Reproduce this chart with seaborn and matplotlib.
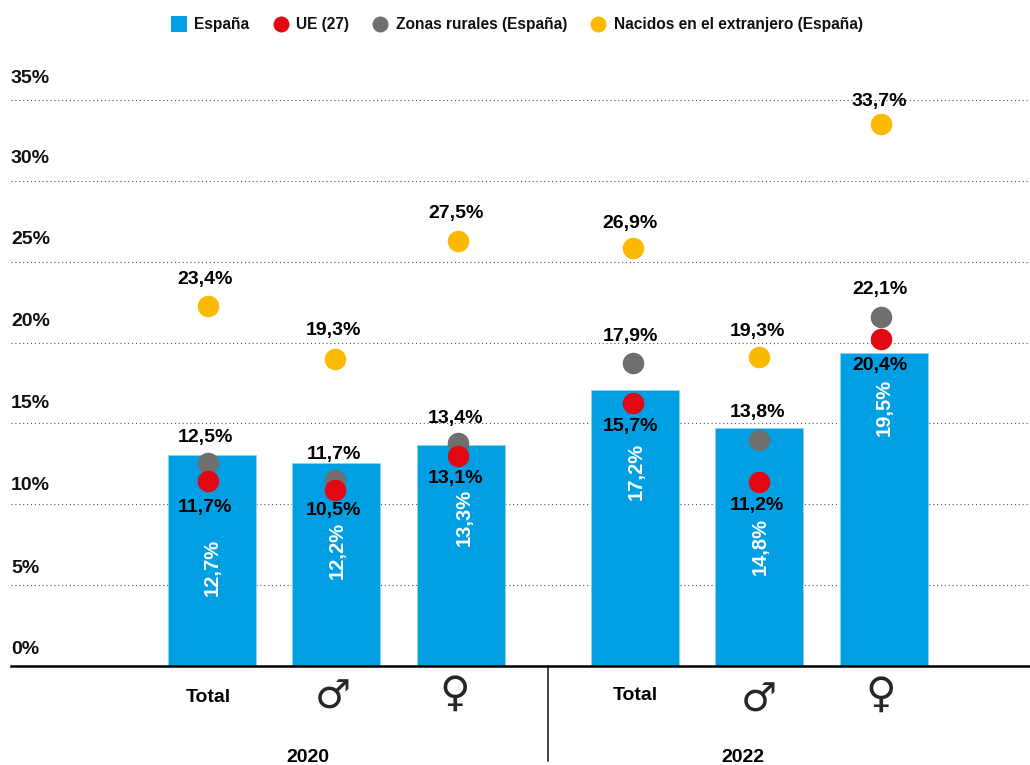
import pandas as pd
import seaborn as sns
import matplotlib.pyplot as plt
from matplotlib.lines import Line2D

grupos = ['Total 2020', 'Hombres 2020', 'Mujeres 2020', 'Total 2022', 'Hombres 2022', 'Mujeres 2022']
espana = [13.05, 12.55, 13.65, 17.05, 14.7, 19.35]
ue = [11.45, 10.9, 13.0, 16.25, 11.4, 20.2]
rurales = [12.55, 11.5, 13.8, 18.75, 14.0, 21.6]
nacidos = [22.25, 19.0, 26.3, 25.85, 19.1, 33.5]

espana_txt = ['12,7%', '12,2%', '13,3%', '17,2%', '14,8%', '19,5%']
ue_txt = ['11,7%', '10,5%', '13,1%', '15,7%', '11,2%', '20,4%']
rurales_txt = ['12,5%', '11,7%', '13,4%', '17,9%', '13,8%', '22,1%']
nacidos_txt = ['23,4%', '19,3%', '27,5%', '26,9%', '19,3%', '33,7%']
y_ticks = [0, 5, 10, 15, 20, 25, 30, 35]

AZUL = '#009FE3'
ROJO = '#E30613'
GRIS = '#706F6F'
AMARILLO = '#FBBA00'
W, H = 1030, 765

# layout: pixel offsets measured on the reference
pos = [0, 1, 2, 3.4, 4.4, 5.4]
pos_puntos = [-0.03, 0.985, 1.975, 3.385, 4.4, 5.375]
off_bar = [112, 87, 72, 81, 118, 54]
dx_bar = [0, 1, 3, 1, 1, 1]
dx_txt = [-3, -1, -2, -3, -2, -1]
off_ue = [27, 21, 23, 23, 24, 26]
off_rur = [-26, -26, -24, -26, -27, -27]
off_nac = [-27, -28, -27, -25, -26, -23]
off_tick = [16, 17, 19, 20, 21, 22, 22, 22]

sns.set_theme(style='white')
plt.rcParams['font.family'] = ['Liberation Sans', 'DejaVu Sans']
fig = plt.figure(figsize=(W / 100, H / 100), dpi=100)
ax = fig.add_axes([11 / W, (H - 666) / H, (W - 11) / W, 606 / H])

df = pd.DataFrame({'grupo': grupos, 'pos': pos, 'punto': pos_puntos, 'espana': espana,
                   'ue': ue, 'rurales': rurales, 'nacidos': nacidos})

sns.barplot(data=df, x='pos', y='espana', native_scale=True, width=0.707, color=AZUL,
            saturation=1, edgecolor='#8FD3F2', linewidth=0.6, ax=ax, zorder=2)
sns.scatterplot(data=df, x='punto', y='nacidos', color=AMARILLO, s=240, linewidth=0, ax=ax, zorder=3)
sns.scatterplot(data=df, x='punto', y='rurales', color=GRIS, s=240, linewidth=0, ax=ax, zorder=3)
sns.scatterplot(data=df, x='punto', y='ue', color=ROJO, s=240, linewidth=0, ax=ax, zorder=4)

ax.set_xlim(-1.616, 6.576)
ax.set_ylim(0, 606 / 16.17)
ax.set_xlabel('')
ax.set_ylabel('')
ax.set_xticks([])
ax.set_yticks([])
for s in ['top', 'left', 'right']:
    ax.spines[s].set_visible(False)
ax.spines['bottom'].set_linewidth(1.8)
ax.spines['bottom'].set_color('black')
ax.spines['bottom'].set_zorder(5)

def etiqueta(x, y, txt, dy, dx=0, size=14, color='black', **kw):
    # dx, dy in pixels, positive dy goes down
    ax.annotate(txt, (x, y), xytext=(dx * 0.72, -dy * 0.72), textcoords='offset points', ha='center',
                va='center', fontsize=size, fontweight='bold', color=color, zorder=6,
                annotation_clip=False, **kw)

for t in y_ticks[1:]:
    ax.axhline(t, color='#555555', lw=0.8, ls=(0, (1, 2.5)), zorder=1)
for t, off in zip(y_ticks, off_tick):
    ax.annotate(f'{t}%', (0, t), xycoords=ax.get_yaxis_transform(), xytext=(0, off * 0.72),
                textcoords='offset points', ha='left', va='center', fontsize=14,
                fontweight='bold', color='#111111', annotation_clip=False)

for i in range(len(grupos)):
    x = pos_puntos[i]
    etiqueta(pos[i], espana[i], espana_txt[i], off_bar[i], dx=dx_bar[i], size=14.5, color='white', rotation=90)
    etiqueta(x, ue[i], ue_txt[i], off_ue[i], dx=dx_txt[i])
    etiqueta(x, rurales[i], rurales_txt[i], off_rur[i], dx=dx_txt[i])
    etiqueta(x, nacidos[i], nacidos_txt[i], off_nac[i], dx=dx_txt[i])

# category labels under the axis
for x, y, txt in [(-0.03, 698, 'Total'), (3.4, 696, 'Total')]:
    etiqueta(x, 0, txt, y - 666)
for x, y in [(0.97, 698), (4.395, 701)]:
    ax.annotate('♂', (x, 0), xytext=(0, -(y - 666) * 0.72), textcoords='offset points', ha='center',
                va='center', fontsize=29, family='DejaVu Sans', fontweight='bold', annotation_clip=False)
for x, y in [(1.95, 694), (5.375, 695)]:
    ax.annotate('♀', (x, 0), xytext=(0, -(y - 666) * 0.72), textcoords='offset points', ha='center',
                va='center', fontsize=30, family='DejaVu Sans', fontweight='bold', annotation_clip=False)
etiqueta(0.77, 0, '2020', 758 - 666)
etiqueta(4.27, 0, '2022', 758 - 666)

ax.plot([2.70, 2.70], [0, -5.85], color='#222222', lw=1.2, clip_on=False, zorder=5)

handles = [Line2D([], [], marker='s', ls='', color=AZUL, ms=11, mew=0),
           Line2D([], [], marker='o', ls='', color=ROJO, ms=11.5, mew=0),
           Line2D([], [], marker='o', ls='', color=GRIS, ms=11.5, mew=0),
           Line2D([], [], marker='o', ls='', color=AMARILLO, ms=11.5, mew=0)]
labels = ['España', 'UE (27)', 'Zonas rurales (España)', 'Nacidos en el extranjero (España)']
fig.legend(handles, labels, ncol=4, frameon=False, loc='center', bbox_to_anchor=(517 / W, 1 - 25 / H),
           prop={'weight': 'bold', 'size': 11.2}, handlelength=1.0, handletextpad=0.5, columnspacing=1.5,
           labelcolor='#111111')

fig.savefig('out.png', dpi=100)
